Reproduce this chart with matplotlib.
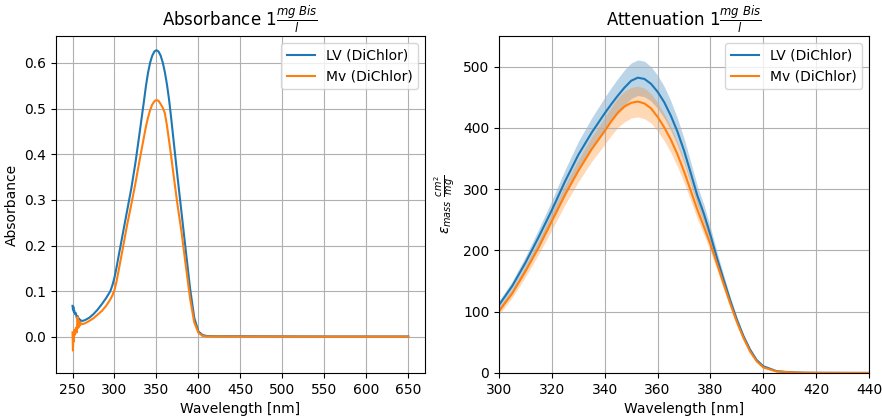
import matplotlib
matplotlib.use("Agg")
import matplotlib.pyplot as plt
from matplotlib.ticker import MultipleLocator
import numpy as np

# ---- Absorbance spectra (1 mg Bis / l) ----
wl_abs = [250, 250.5, 251, 251.5, 252, 253, 254, 255, 256, 257, 258, 259, 260, 262, 265,
          270, 275, 280, 285, 290,
          295, 297.5, 300, 302.5, 305,
          310, 315, 320, 325, 330, 335,
          337.5, 340, 342.5, 345, 347.5, 350, 352.5, 355, 357.5, 360, 362.5, 365, 367.5,
          370, 375, 380, 385, 390, 395, 400, 405, 410,
          420, 450, 500, 550, 600, 650]
abs_lv = [0.068, 0.060, 0.066, 0.055, 0.058, 0.050, 0.052, 0.042, 0.046, 0.038, 0.040, 0.034, 0.036, 0.035, 0.037,
          0.042, 0.050, 0.060, 0.072, 0.085,
          0.100, 0.113, 0.130, 0.153, 0.178,
          0.227, 0.276, 0.325, 0.382, 0.448, 0.515,
          0.550, 0.579, 0.601, 0.616, 0.625, 0.628, 0.625, 0.616, 0.601, 0.580, 0.553, 0.520, 0.480,
          0.437, 0.352, 0.270, 0.188, 0.107, 0.042, 0.012, 0.004, 0.002,
          0.0015, 0.0015, 0.0012, 0.001, 0.001, 0.001]
abs_mv = [0.010, -0.030, 0.005, -0.010, 0.015, 0.005, 0.020, 0.010, 0.044, 0.020, 0.035, 0.025, 0.030, 0.028, 0.030,
          0.035, 0.041, 0.049, 0.057, 0.068,
          0.082, 0.091, 0.103, 0.122, 0.146,
          0.195, 0.245, 0.290, 0.337, 0.388, 0.437,
          0.461, 0.481, 0.497, 0.509, 0.516, 0.519, 0.517, 0.510, 0.502, 0.490, 0.463, 0.430, 0.396,
          0.360, 0.290, 0.228, 0.155, 0.085, 0.032, 0.009, 0.002, 0.001,
          0.001, 0.0008, 0.0008, 0.0006, 0.0006, 0.0006]

# ---- Mass attenuation (mean and standard deviation) ----
wl_att = [295, 300, 305, 310, 315, 320, 325, 330, 335, 340, 342.5, 345, 347.5, 350, 352.5,
          355, 357.5, 360, 362.5, 365, 367.5, 370, 372.5, 375, 377.5, 380, 382.5, 385, 387.5,
          390, 392.5, 395, 397.5, 400, 405, 410, 415, 420, 430, 440, 445]
att_lv = [92, 111, 142, 180, 222, 266, 313, 356, 392, 424, 439, 453, 466, 477, 482,
          480, 472, 459, 442, 420, 394, 363, 327, 290, 260, 225, 187, 152, 118,
          87, 60, 38, 21, 11, 3, 1.2, 0.5, 0.3, 0.2, 0.1, 0.1]
std_lv = [6, 7, 8, 10, 13, 16, 19, 22, 24, 26, 27, 28, 29, 29, 29,
          29, 28, 27, 26, 24, 22, 20, 18, 16, 15, 13, 10, 8, 6,
          4.5, 3, 2, 1.2, 0.6, 0.2, 0.1, 0, 0, 0, 0, 0]
att_mv = [84, 101, 130, 166, 205, 248, 291, 330, 365, 395, 411, 425, 435, 441, 443,
          440, 432, 418, 401, 381, 357, 329, 298, 267, 239, 210, 178, 145, 113,
          83, 57, 35, 19, 9, 2.5, 1, 0.4, 0.2, 0.1, 0.1, 0.1]
std_mv = [5, 6, 7, 9, 11, 14, 16, 18, 20, 22, 23, 24, 25, 25, 25,
          25, 24, 23, 22, 21, 20, 18, 16, 15, 13, 12, 10, 8, 6,
          4.5, 3, 2, 1, 0.5, 0.2, 0.1, 0, 0, 0, 0, 0]

labels = ["LV (DiChlor)", "Mv (DiChlor)"]
colors = ["#1f77b4", "#ff7f0e"]

fig = plt.figure(figsize=(8.82, 4.16), dpi=100)
ax1 = fig.add_axes([0.0632, 0.1034, 0.4187, 0.810])
ax2 = fig.add_axes([0.5658, 0.1034, 0.4195, 0.810])

# Absorbance panel
ax1.plot(wl_abs, abs_lv, color=colors[0], label=labels[0])
ax1.plot(wl_abs, abs_mv, color=colors[1], label=labels[1])
ax1.set_ylim(-0.079, 0.659)
ax1.xaxis.set_major_locator(MultipleLocator(50))
ax1.set_title(r"Absorbance $1\frac{mg\ Bis}{l}$")
ax1.set_xlabel("Wavelength [nm]")
ax1.set_ylabel("Absorbance")
ax1.grid(True)
ax1.legend(loc="upper right")

# Attenuation panel with +/- 1 std band
for att, std, c, lab in [(att_lv, std_lv, colors[0], labels[0]),
                         (att_mv, std_mv, colors[1], labels[1])]:
    a = np.array(att)
    s = np.array(std)
    ax2.plot(wl_att, a, color=c, label=lab)
    ax2.fill_between(wl_att, a - s, a + s, color=c, alpha=0.3, linewidth=0)
ax2.set_xlim(300, 440)
ax2.set_ylim(0, 550)
ax2.set_title(r"Attenuation $1\frac{mg\ Bis}{l}$")
ax2.set_xlabel("Wavelength [nm]")
ax2.set_ylabel(r"$\epsilon_{mass}\ \frac{cm^2}{mg}$")
ax2.grid(True)
ax2.legend(loc="upper right")

fig.savefig("out.png", dpi=100)
